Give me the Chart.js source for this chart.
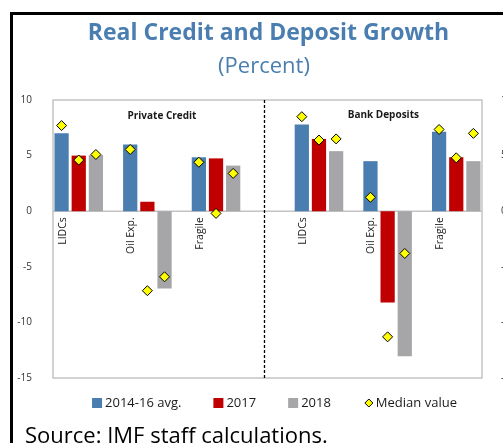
<!DOCTYPE html>
<html>
<head>
<meta charset="utf-8">
<script src="https://cdn.jsdelivr.net/npm/chart.js@4.4.1/dist/chart.umd.min.js"></script>
<style>
  html, body { margin:0; padding:0; background:#fff; }
  body { width:503px; height:443px; overflow:hidden; position:relative; font-family:"Open Sans", "Noto Sans", sans-serif; }
  .frame { position:absolute; left:10px; top:12px; width:600px; height:500px; border-left:3px solid #000; border-top:3px solid #000; }
  .title { position:absolute; left:0; width:537px; top:18px; text-align:center; color:#4a7eb0; font-weight:700; font-size:23px; line-height:26px; white-space:nowrap; }
  .subtitle { position:absolute; left:0; width:528px; top:51px; text-align:center; color:#4a7eb0; font-size:22px; line-height:26px; }
  .source { position:absolute; left:25px; top:421px; font-size:22px; line-height:26px; color:#000; white-space:nowrap; }
  #chart { position:absolute; left:0; top:0; }
</style>
</head>
<body>
<div class="frame"></div>
<canvas id="chart" width="503" height="443"></canvas>
<div class="title">Real Credit and Deposit Growth</div>
<div class="subtitle">(Percent)</div>
<div class="source">Source: IMF staff calculations.</div>
<script>
// groups: Private Credit (LIDCs, Oil Exp., Fragile), Bank Deposits (LIDCs, Oil Exp., Fragile)
const panels = ['Private Credit', 'Bank Deposits'];
const groups = ['LIDCs', 'Oil Exp.', 'Fragile'];
const seriesNames = ['2014-16 avg.', '2017', '2018'];
const medianName = 'Median value';

const avg1416 = [7.0, 6.0, 4.85, 7.8, 4.5, 7.15];
const y2017   = [5.0, 0.85, 4.75, 6.5, -8.2, 4.85];
const y2018   = [5.05, -6.95, 4.1, 5.4, -13.05, 4.5];

const medAvg  = [7.7, 5.55, 4.4, 8.5, 1.25, 7.35];
const med2017 = [4.6, -7.15, -0.2, 6.4, -11.3, 4.8];
const med2018 = [5.1, -5.9, 3.4, 6.5, -3.8, 7.0];

const yTicks = [10, 5, 0, -5, -10, -15];

const colors = ['#4a7eb0', '#c00000', '#a6a6a9'];

// each group takes 4 slots (3 bars + gap), panels are 14 slots apart
const nSlots = 25;
function slotOf(g, s){
  const p = Math.floor(g / 3), k = g % 3;
  return p * 14 + k * 4 + s;
}
function spread(vals, s){
  const out = new Array(nSlots).fill(null);
  vals.forEach((v, g) => { out[slotOf(g, s)] = v; });
  return out;
}

const barSeries = [avg1416, y2017, y2018];
const medSeries = [medAvg, med2017, med2018];
const labels = new Array(nSlots).fill('');

const medianData = new Array(nSlots).fill(null);
medSeries.forEach((m, s) => m.forEach((v, g) => { medianData[slotOf(g, s)] = v; }));

const datasets = [
  {
    type:'line',
    label: medianName,
    data: medianData,
    showLine:false,
    pointStyle:'rectRot',
    pointRadius:5,
    pointHoverRadius:5,
    pointBackgroundColor:'#ffff00',
    pointBorderColor:'#000',
    pointBorderWidth:1,
    yAxisID:'y',
    order:0
  }
].concat(barSeries.map((vals, s) => ({
  type:'bar',
  label: seriesNames[s],
  data: spread(vals, s),
  backgroundColor: colors[s],
  borderWidth:0,
  grouped:false,
  barPercentage:0.83,
  categoryPercentage:1,
  yAxisID:'y',
  order:1
})));

const decor = {
  id:'decor',
  beforeDatasetsDraw(chart){
    const {ctx, chartArea:a, scales} = chart;
    const y0 = scales.y.getPixelForValue(0);
    ctx.save();
    ctx.strokeStyle = '#c4c4c4';
    ctx.lineWidth = 1.5;
    ctx.strokeRect(a.left, a.top, a.right - a.left, a.bottom - a.top);
    ctx.beginPath();
    ctx.moveTo(a.left, y0);
    ctx.lineTo(a.right, y0);
    ctx.stroke();
    ctx.restore();
  },
  afterDraw(chart){
    const {ctx, chartArea:a, scales} = chart;
    const x = scales.x, y0 = scales.y.getPixelForValue(0);
    ctx.save();
    // divider between panels
    const dx = a.left + (a.right - a.left) * 0.493;
    ctx.strokeStyle = '#000';
    ctx.lineWidth = 1.3;
    ctx.setLineDash([3, 2]);
    ctx.beginPath();
    ctx.moveTo(dx, a.top);
    ctx.lineTo(dx, a.bottom);
    ctx.stroke();
    ctx.setLineDash([]);

    // panel titles
    ctx.fillStyle = '#1a1a1a';
    ctx.font = 'bold 10px "Open Sans"';
    ctx.textAlign = 'center';
    ctx.textBaseline = 'middle';
    ctx.fillText(panels[0], a.left + (a.right - a.left) * 0.254, a.top + 16);
    ctx.fillText(panels[1], a.left + (a.right - a.left) * 0.77, a.top + 15);

    // category labels, rotated, under the first bar of each group
    ctx.font = '10.5px "Open Sans"';
    ctx.fillStyle = '#1a1a1a';
    for(let g = 0; g < 6; g++){
      const px = x.getPixelForValue(slotOf(g, 0)) + 1;
      ctx.save();
      ctx.translate(px, y0 + 6);
      ctx.rotate(-Math.PI / 2);
      ctx.textAlign = 'right';
      ctx.textBaseline = 'middle';
      ctx.fillText(groups[g % 3], 0, 0);
      ctx.restore();
    }

    // legend
    ctx.font = '13px "Open Sans"';
    ctx.textBaseline = 'middle';
    ctx.textAlign = 'left';
    const items = chart.data.datasets.slice(1).concat(chart.data.datasets.slice(0, 1));
    const gap = 32, box = 10, tgap = 3;
    const widths = items.map(d => box + tgap + ctx.measureText(d.label).width);
    const total = widths.reduce((p, c) => p + c, 0) + gap * (items.length - 1);
    let lx = (a.left + a.right) / 2 + 7 - total / 2;
    const ly = 403;
    items.forEach((d, i) => {
      if(d.type === 'line'){
        const cx = lx + box / 2 + 1, r = 4;
        ctx.beginPath();
        ctx.moveTo(cx, ly - r); ctx.lineTo(cx + r, ly); ctx.lineTo(cx, ly + r); ctx.lineTo(cx - r, ly); ctx.closePath();
        ctx.fillStyle = d.pointBackgroundColor;
        ctx.fill();
        ctx.strokeStyle = '#000';
        ctx.lineWidth = 1;
        ctx.stroke();
      } else {
        ctx.fillStyle = d.backgroundColor;
        ctx.fillRect(lx, ly - box / 2, box, box);
      }
      ctx.fillStyle = '#1a1a1a';
      ctx.fillText(d.label, lx + box + tgap, ly + 0.5);
      lx += widths[i] + gap;
    });
    ctx.restore();
  }
};

new Chart(document.getElementById('chart'), {
  data:{ labels, datasets },
  options:{
    responsive:false,
    animation:false,
    layout:{ padding:{ top:100, bottom:65, left:0, right:0 } },
    plugins:{ legend:{ display:false }, tooltip:{ enabled:false } },
    scales:{
      x:{ display:false, offset:true },
      y:{
        position:'left',
        min:-15, max:10,
        afterFit(scale){ scale.width = 53; },
        afterBuildTicks(scale){ scale.ticks = yTicks.map(v => ({value:v})); },
        grid:{ display:false },
        border:{ display:false },
        ticks:{ color:'#333', font:{ family:'"Open Sans"', size:10 }, padding:13 }
      },
      y2:{
        position:'right',
        min:-15, max:10,
        afterFit(scale){ scale.width = 21; },
        afterBuildTicks(scale){ scale.ticks = yTicks.map(v => ({value:v})); },
        grid:{ display:false },
        border:{ display:false },
        ticks:{ color:'#333', font:{ family:'"Open Sans"', size:10 }, padding:11 }
      }
    }
  },
  plugins:[decor]
});
</script>
</body>
</html>
